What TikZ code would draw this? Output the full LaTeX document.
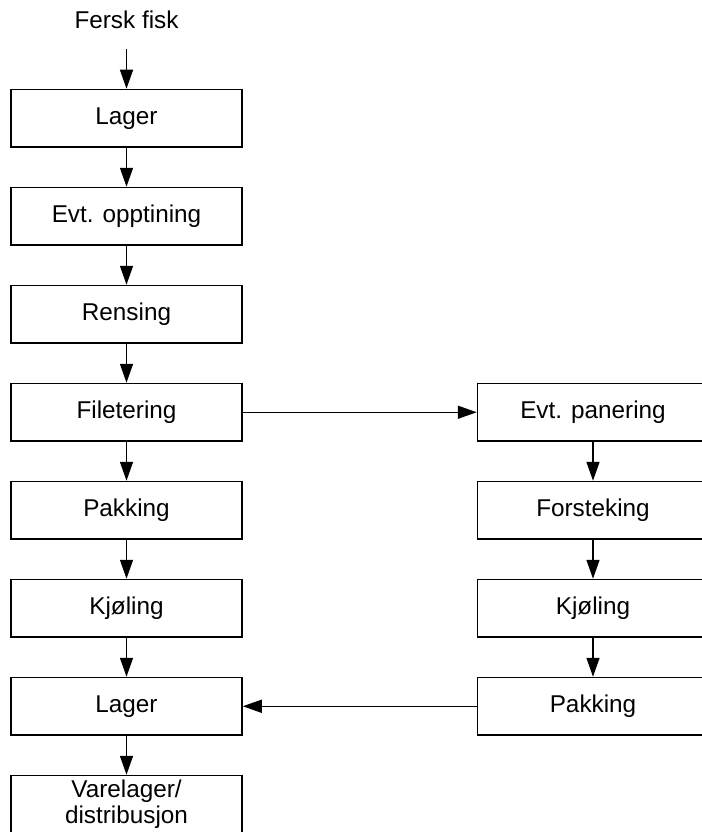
\documentclass[tikz,border=0pt]{standalone}
\usepackage{fontspec}
\setmainfont{Liberation Sans}
\usetikzlibrary{arrows.meta}
\begin{document}
\begin{tikzpicture}[x=1pt,y=-1pt,
  stepbox/.style={draw, line width=1.5pt, minimum width=231pt, minimum height=57.5pt,
    inner sep=0pt, align=center, font=\fontsize{24.3}{26.5}\selectfont},
  flow/.style={line width=1.5pt, -{Triangle[length=19pt,width=13pt]}},
  lbl/.style={inner sep=0pt, font=\fontsize{24.3}{26.5}\selectfont}]
\useasboundingbox (0,0) rectangle (701,832);

% main line
\node[lbl] (fersk) at (126.5,20) {Fersk fisk};
\coordinate (start) at (126.5,49);
\node[stepbox] (lager1) at (126.5,118.25) {Lager};
\node[stepbox] (opptining) at (126.5,216.25) {Evt. opptining};
\node[stepbox] (rensing) at (126.5,314.25) {Rensing};
\node[stepbox] (filetering) at (126.5,412.25) {Filetering};
\node[stepbox] (pakking1) at (126.5,510.25) {Pakking};
\node[stepbox] (kjoling1) at (126.5,608.25) {Kjøling};
\node[stepbox] (lager2) at (126.5,706.25) {Lager};
\node[stepbox] (varelager) at (126.5,804.25) {Varelager/\\distribusjon};

% side line
\node[stepbox] (panering) at (593,412.25) {Evt. panering};
\node[stepbox] (forsteking) at (593,510.25) {Forsteking};
\node[stepbox] (kjoling2) at (593,608.25) {Kjøling};
\node[stepbox] (pakking2) at (593,706.25) {Pakking};

\draw[flow] (start) -- (lager1);
\draw[flow] (lager1) -- (opptining);
\draw[flow] (opptining) -- (rensing);
\draw[flow] (rensing) -- (filetering);
\draw[flow] (filetering) -- (pakking1);
\draw[flow] (pakking1) -- (kjoling1);
\draw[flow] (kjoling1) -- (lager2);
\draw[flow] (lager2) -- (varelager);

\draw[flow] (filetering) -- (panering);
\draw[flow] (panering) -- (forsteking);
\draw[flow] (forsteking) -- (kjoling2);
\draw[flow] (kjoling2) -- (pakking2);
\draw[flow] (pakking2) -- (lager2);
\end{tikzpicture}
\end{document}
